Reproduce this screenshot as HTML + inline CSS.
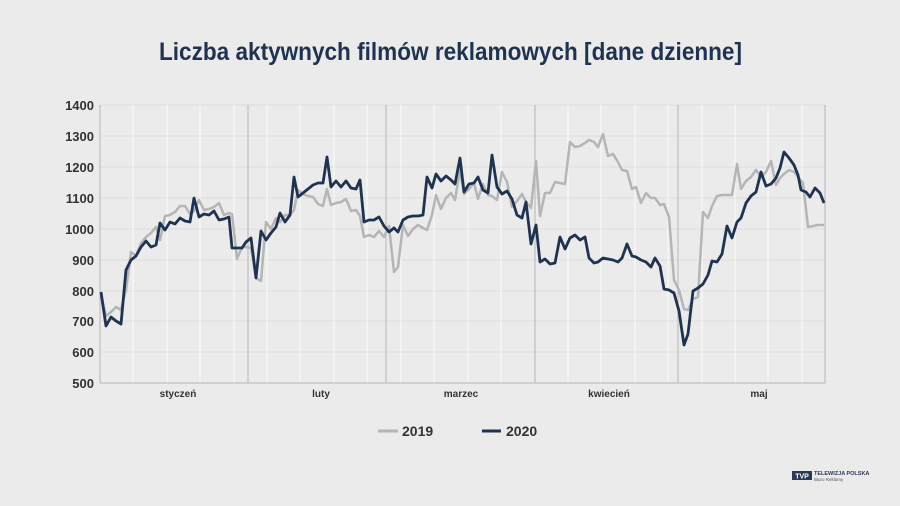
<!DOCTYPE html>
<html><head><meta charset="utf-8"><style>
html,body{margin:0;padding:0;background:#ebebeb;}
svg{display:block;font-family:"Liberation Sans",sans-serif;}
</style></head><body>
<svg width="900" height="506" viewBox="0 0 900 506">
<rect width="900" height="506" fill="#ebebeb"/>
<text x="159" y="60" textLength="583" lengthAdjust="spacingAndGlyphs" font-size="25" font-weight="bold" fill="#1f3350">Liczba aktywnych filmów reklamowych [dane dzienne]</text>
<g stroke="#dcdcdc" stroke-width="1">
<line x1="100" y1="105" x2="825" y2="105"/><line x1="100" y1="136" x2="825" y2="136"/><line x1="100" y1="167" x2="825" y2="167"/><line x1="100" y1="198" x2="825" y2="198"/><line x1="100" y1="229" x2="825" y2="229"/><line x1="100" y1="260" x2="825" y2="260"/><line x1="100" y1="291" x2="825" y2="291"/><line x1="100" y1="321" x2="825" y2="321"/><line x1="100" y1="352" x2="825" y2="352"/>
</g>
<g stroke="#f8f8f8" stroke-width="1.2">
<line x1="133" y1="105" x2="133" y2="383"/><line x1="167" y1="105" x2="167" y2="383"/><line x1="200" y1="105" x2="200" y2="383"/><line x1="234" y1="105" x2="234" y2="383"/><line x1="267" y1="105" x2="267" y2="383"/><line x1="300" y1="105" x2="300" y2="383"/><line x1="334" y1="105" x2="334" y2="383"/><line x1="367" y1="105" x2="367" y2="383"/><line x1="401" y1="105" x2="401" y2="383"/><line x1="434" y1="105" x2="434" y2="383"/><line x1="468" y1="105" x2="468" y2="383"/><line x1="501" y1="105" x2="501" y2="383"/><line x1="568" y1="105" x2="568" y2="383"/><line x1="601" y1="105" x2="601" y2="383"/><line x1="635" y1="105" x2="635" y2="383"/><line x1="668" y1="105" x2="668" y2="383"/><line x1="702" y1="105" x2="702" y2="383"/><line x1="735" y1="105" x2="735" y2="383"/><line x1="768" y1="105" x2="768" y2="383"/><line x1="802" y1="105" x2="802" y2="383"/>
</g>
<g stroke="#b4b4b4" stroke-width="1">
<line x1="248" y1="105" x2="248" y2="383"/><line x1="386" y1="105" x2="386" y2="383"/><line x1="535" y1="105" x2="535" y2="383"/><line x1="678" y1="105" x2="678" y2="383"/><line x1="825" y1="105" x2="825" y2="383"/>
<line x1="100" y1="105" x2="100" y2="383"/><line x1="100" y1="383" x2="825" y2="383"/>
</g>
<g font-size="13" font-weight="bold" fill="#333" text-anchor="end">
<text x="94" y="110">1400</text><text x="94" y="141">1300</text><text x="94" y="172">1200</text><text x="94" y="203">1100</text><text x="94" y="234">1000</text><text x="94" y="265">900</text><text x="94" y="296">800</text><text x="94" y="326">700</text><text x="94" y="357">600</text><text x="94" y="388">500</text>
</g>
<g font-size="10" font-weight="bold" fill="#333" text-anchor="middle">
<text x="178" y="397">styczeń</text><text x="321" y="397">luty</text><text x="461" y="397">marzec</text><text x="609" y="397">kwiecień</text><text x="759" y="397">maj</text>
</g>
<polyline fill="none" stroke="#b5b5b5" stroke-width="2.5" stroke-linejoin="round" points="101,295 106,316 111,312 116,307 121,310 126,290 131,252 136,256 141,243 146,237 151,233 156,227 160,240 165,216 170,215 175,212 180,206 185,206 190,214 194,211 199,200 204,210 209,209 214,207 219,203 224,215 229,213 232,214 237,259 242,247 246,247 251,248 256,278 261,281 266,222 271,229 276,218 280,222 285,215 290,215 294,210 298,190 303,194 308,196 313,197 318,204 323,206 327,189 331,205 336,203 341,202 346,199 351,211 356,210 360,216 364,237 369,235 374,237 379,231 384,237 389,226 394,272 398,267 403,225 408,236 413,229 418,225 423,228 427,230 432,215 436,195 441,209 446,198 451,193 455,200 460,170 464,194 469,189 474,183 478,199 483,184 488,195 492,196 497,200 502,172 507,182 512,207 517,201 522,194 526,202 531,208 536,161 540,216 545,193 550,193 555,182 560,183 565,184 570,142 575,147 580,146 585,143 589,140 594,142 598,147 603,134 608,156 613,154 618,162 622,170 627,171 632,189 636,187 641,203 646,193 651,198 655,198 660,205 664,204 669,217 674,280 679,290 684,309 688,310 693,299 698,297 703,212 708,218 712,206 717,196 722,195 727,195 732,195 737,164 741,189 746,181 751,177 756,170 761,177 766,172 771,161 776,185 780,178 784,174 789,170 794,172 798,177 803,183 808,227 813,226 818,225 824,225"/>
<polyline fill="none" stroke="#1f3350" stroke-width="2.8" stroke-linejoin="round" points="101,292 106,326 111,317 116,321 121,324 126,270 131,260 136,256 141,247 146,241 151,247 156,245 160,223 165,230 170,222 175,224 180,218 185,221 190,222 194,198 199,217 204,214 209,215 214,211 219,220 224,219 229,217 232,248 238,248 242,248 246,242 251,238 256,278 261,231 266,240 271,233 276,227 280,213 285,222 290,215 294,177 298,197 303,193 308,189 313,185 318,183 323,183 327,157 331,187 336,181 341,187 346,181 351,188 356,189 360,180 364,222 369,220 374,220 379,217 384,226 389,232 394,228 398,232 403,220 408,217 413,216 418,216 423,215 427,177 432,188 436,174 441,181 446,176 451,180 455,184 460,158 464,192 469,184 474,183 478,177 483,190 488,193 492,155 497,187 502,194 507,191 512,199 517,215 522,218 526,202 531,244 536,225 540,262 545,259 550,264 555,263 560,237 565,249 570,238 575,235 580,240 585,237 589,258 594,263 598,262 603,258 608,259 613,260 618,262 622,258 627,244 632,256 636,257 641,260 646,262 651,267 655,258 660,266 664,289 669,290 674,293 679,311 684,345 688,334 693,291 698,288 703,284 708,275 712,261 717,262 722,254 727,226 732,238 737,222 741,218 746,203 751,196 756,192 761,172 766,186 771,184 776,178 780,168 784,152 789,158 794,165 798,175 801,190 806,192 810,197 815,188 820,193 824,203"/>
<line x1="378" y1="431" x2="398" y2="431" stroke="#b5b5b5" stroke-width="3"/>
<text x="402" y="436" font-size="14" font-weight="bold" fill="#333">2019</text>
<line x1="482" y1="431" x2="501" y2="431" stroke="#1f3350" stroke-width="3"/>
<text x="506" y="436" font-size="14" font-weight="bold" fill="#333">2020</text>
<rect x="792" y="471" width="20" height="9" fill="#2a3a55"/>
<text x="802" y="478.5" font-size="7" fill="#fff" text-anchor="middle" font-weight="bold">TVP</text>
<text x="814" y="475" font-size="5.5" font-weight="bold" fill="#2a3a55">TELEWIZJA POLSKA</text>
<text x="814" y="481" font-size="4.5" fill="#555">Biuro Reklamy</text>
</svg>
</body></html>
